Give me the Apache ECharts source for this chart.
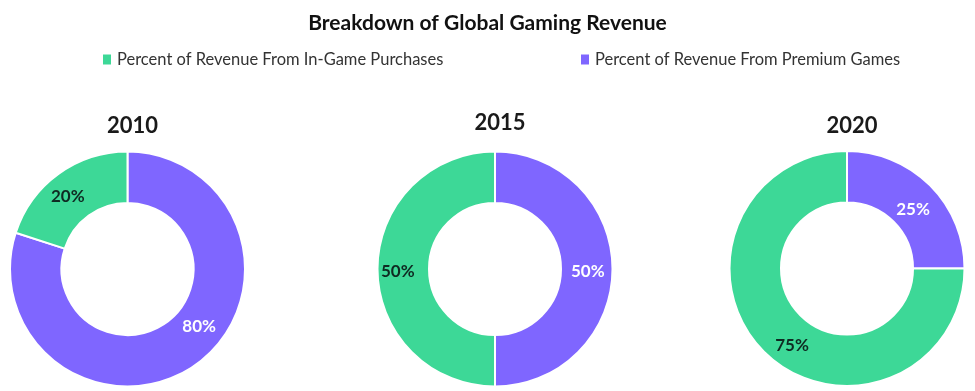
<!DOCTYPE html>
<html>
<head>
<meta charset="utf-8">
<script src="https://cdn.jsdelivr.net/npm/echarts@6/dist/echarts.min.js"></script>
<style>
html,body{margin:0;padding:0;background:#fff;}
#chart{width:975px;height:391px;}
</style>
</head>
<body>
<div id="chart"></div>
<script>
const titleText = 'Breakdown of Global Gaming Revenue';
const years = ['2010', '2015', '2020'];
const seriesNames = ['Percent of Revenue From Premium Games', 'Percent of Revenue From In-Game Purchases'];
const premiumValues = [80, 50, 25];
const inGameValues = [20, 50, 75];

const colorInGame = '#3dd897';
const colorPremium = '#7f66ff';
const FONT = 'Lato';

// layout (style) settings
const centers = [[127.5, 269], [495, 269], [847, 268.5]];
const titleTops = [110, 107, 110];
// label nudges [premium, inGame] per pie, to mimic reference placement
const labelNudges = [
  [[16, -19], [-4, 4]],
  [[-2, 3], [-2.5, 3]],
  [[-1, 8], [12, 10]]
];

const chart = echarts.init(document.getElementById('chart'));

const titles = [{
  text: titleText,
  left: 'center',
  top: 8,
  textStyle: {fontFamily: FONT, fontWeight: 'bold', fontSize: 21, color: '#111'}
}];
years.forEach((y, i) => {
  titles.push({
    text: y,
    left: centers[i][0],
    top: titleTops[i],
    textAlign: 'center',
    textStyle: {fontFamily: FONT, fontWeight: 'bold', fontSize: 22, color: '#1a1a1a'}
  });
});

const series = years.map((y, i) => ({
  name: y,
  type: 'pie',
  center: centers[i],
  radius: [66, 117.5],
  startAngle: 90,
  clockwise: true,
  avoidLabelOverlap: false,
  itemStyle: {borderColor: '#fff', borderWidth: 2},
  label: {
    show: true,
    position: 'inside',
    formatter: '{c}%',
    fontFamily: FONT,
    fontWeight: 'bold',
    fontSize: 17
  },
  labelLine: {show: false},
  emphasis: {disabled: true},
  data: [
    {name: seriesNames[0], value: premiumValues[i], itemStyle: {color: colorPremium},
     label: {color: '#ffffff', offset: labelNudges[i][0]}},
    {name: seriesNames[1], value: inGameValues[i], itemStyle: {color: colorInGame},
     label: {color: '#0f2a22', offset: labelNudges[i][1]}}
  ]
}));

const legendText = {fontFamily: FONT, fontSize: 16.5, color: '#333'};
chart.setOption({
  animation: false,
  color: [colorPremium, colorInGame],
  title: titles,
  legend: [
    {
      data: [seriesNames[1]],
      left: 96, top: 46,
      icon: 'rect', itemWidth: 10, itemHeight: 12, itemGap: 10,
      textStyle: legendText,
      selectedMode: false
    },
    {
      data: [seriesNames[0]],
      left: 574, top: 46,
      icon: 'rect', itemWidth: 10, itemHeight: 12,
      textStyle: legendText,
      selectedMode: false
    }
  ],
  series: series
});
</script>
</body>
</html>
